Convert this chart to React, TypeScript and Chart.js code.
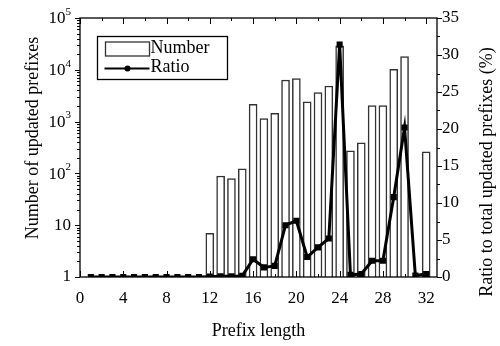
import React, { useEffect, useRef } from 'react';
import { Chart, registerables } from 'chart.js';

Chart.register(...registerables);

// Prefix lengths that have bars, and the number of updated prefixes for each
const barLengths = [12, 13, 14, 15, 16, 17, 18, 19, 20, 21, 22, 23, 24, 25, 26, 27, 28, 29, 30, 32];
const barCounts = [7, 89, 79, 123, 2150, 1150, 1440, 6350, 6750, 2420, 3620, 4870, 29000, 274, 390, 2040, 2040, 10200, 17900, 262];

// Ratio to total updated prefixes (%) for prefix lengths 1..32
const ratioLengths = [1, 2, 3, 4, 5, 6, 7, 8, 9, 10, 11, 12, 13, 14, 15, 16, 17, 18, 19, 20, 21, 22, 23, 24, 25, 26, 27, 28, 29, 30, 31, 32];
const ratioValues = [0, 0, 0, 0, 0, 0, 0, 0, 0, 0, 0, 0.05, 0.1, 0.1, 0.15, 2.4, 1.3, 1.5, 7.0, 7.6, 2.7, 4.0, 5.2, 31.4, 0.3, 0.4, 2.2, 2.2, 10.8, 20.2, 0.2, 0.4];

// Tick labels
const xTickValues = [0, 4, 8, 12, 16, 20, 24, 28, 32];
const leftTickExponents = [0, 1, 2, 3, 4, 5];
const rightTickValues = [0, 5, 10, 15, 20, 25, 30, 35];

const xTitle = 'Prefix length';
const leftTitle = 'Number of updated prefixes';
const rightTitle = 'Ratio to total updated prefixes (%)';
const legendLabels = ['Number', 'Ratio'];

const FONT = '"Liberation Serif", "Times New Roman", serif';

const axesPlugin = {
  id: 'customAxes',
  afterDraw(chart: any) {
    const { ctx, chartArea } = chart;
    const { left, right, top, bottom } = chartArea;
    const xs = chart.scales.x;
    const ys = chart.scales.y;
    const yr = chart.scales.y1;
    ctx.save();
    ctx.strokeStyle = '#000';
    ctx.fillStyle = '#000';
    ctx.lineWidth = 1.3;
    ctx.strokeRect(left, top, right - left, bottom - top);

    // x ticks (bottom & top, inward)
    ctx.lineWidth = 1;
    for (let v = 0; v <= 32; v += 2) {
      const px = Math.round(xs.getPixelForValue(v)) + 0.5;
      const len = v % 4 === 0 ? 6 : 3;
      ctx.beginPath();
      ctx.moveTo(px, bottom);
      ctx.lineTo(px, bottom - len);
      ctx.moveTo(px, top);
      ctx.lineTo(px, top + len);
      ctx.stroke();
    }
    ctx.font = `17px ${FONT}`;
    ctx.textAlign = 'center';
    ctx.textBaseline = 'middle';
    xTickValues.forEach((v) => {
      ctx.fillText(String(v), xs.getPixelForValue(v), bottom + 22);
    });

    // left log ticks (outward)
    for (let e = 0; e <= 5; e++) {
      const py = Math.round(ys.getPixelForValue(Math.pow(10, e))) + 0.5;
      ctx.beginPath();
      ctx.moveTo(left, py);
      ctx.lineTo(left - 5, py);
      ctx.stroke();
      if (e < 5) {
        for (let k = 2; k <= 9; k++) {
          const my = Math.round(ys.getPixelForValue(k * Math.pow(10, e))) + 0.5;
          ctx.beginPath();
          ctx.moveTo(left, my);
          ctx.lineTo(left - 3, my);
          ctx.stroke();
        }
      }
    }
    ctx.textAlign = 'right';
    leftTickExponents.forEach((e) => {
      const py = ys.getPixelForValue(Math.pow(10, e));
      const lx = left - 9;
      if (e === 0) {
        ctx.font = `17px ${FONT}`;
        ctx.fillText('1', lx, py);
      } else if (e === 1) {
        ctx.font = `17px ${FONT}`;
        ctx.fillText('10', lx, py);
      } else {
        ctx.font = `11px ${FONT}`;
        const sup = String(e);
        const sw = ctx.measureText(sup).width;
        ctx.fillText(sup, lx, py - 6);
        ctx.font = `17px ${FONT}`;
        ctx.fillText('10', lx - sw, py + 1);
      }
    });

    // right ticks (outward)
    for (let v = 0; v <= 35; v += 2.5) {
      const py = Math.round(yr.getPixelForValue(v)) + 0.5;
      const len = v % 5 === 0 ? 5 : 3;
      ctx.beginPath();
      ctx.moveTo(right, py);
      ctx.lineTo(right + len, py);
      ctx.stroke();
    }
    ctx.font = `17px ${FONT}`;
    ctx.textAlign = 'left';
    rightTickValues.forEach((v) => {
      ctx.fillText(String(v), right + 5, yr.getPixelForValue(v));
    });

    // titles
    ctx.font = `18px ${FONT}`;
    ctx.textAlign = 'center';
    ctx.fillText(xTitle, (left + right) / 2, bottom + 54);
    ctx.save();
    ctx.translate(33, 138);
    ctx.rotate(-Math.PI / 2);
    ctx.fillText(leftTitle, 0, 0);
    ctx.restore();
    ctx.save();
    ctx.translate(487, 172);
    ctx.rotate(-Math.PI / 2);
    ctx.fillText(rightTitle, 0, 0);
    ctx.restore();

    // legend
    const lx0 = left + 17.5;
    const ly0 = top + 18.5;
    ctx.lineWidth = 1.3;
    ctx.strokeStyle = '#000';
    ctx.strokeRect(lx0, ly0, 130, 43);
    ctx.strokeStyle = '#333';
    ctx.strokeRect(lx0 + 8, ly0 + 5.5, 44, 14);
    ctx.strokeStyle = '#000';
    ctx.lineWidth = 2;
    ctx.beginPath();
    ctx.moveTo(lx0 + 7, ly0 + 32);
    ctx.lineTo(lx0 + 52, ly0 + 32);
    ctx.stroke();
    ctx.beginPath();
    ctx.arc(lx0 + 30, ly0 + 32, 3, 0, Math.PI * 2);
    ctx.fill();
    ctx.font = `18px ${FONT}`;
    ctx.textAlign = 'left';
    ctx.textBaseline = 'middle';
    ctx.fillText(legendLabels[0], lx0 + 53, ly0 + 12);
    ctx.fillText(legendLabels[1], lx0 + 53, ly0 + 31);
    ctx.restore();
  },
};

export default function App() {
  const canvasRef = useRef<HTMLCanvasElement | null>(null);

  useEffect(() => {
    if (!canvasRef.current) return;
    const chart = new Chart(canvasRef.current, {
      type: 'bar',
      data: {
        datasets: [
          {
            type: 'line',
            label: legendLabels[1],
            data: ratioLengths.map((x, i) => ({ x, y: ratioValues[i] })),
            yAxisID: 'y1',
            borderColor: '#000',
            backgroundColor: '#000',
            borderWidth: 3,
            pointRadius: 2.2,
            pointStyle: 'rect',
            tension: 0,
            order: 0,
          } as any,
          {
            type: 'bar',
            label: legendLabels[0],
            data: barLengths.map((x, i) => ({ x, y: barCounts[i] })),
            yAxisID: 'y',
            backgroundColor: '#fff',
            borderColor: '#333',
            borderWidth: 1.5,
            barThickness: 8,
            order: 1,
          } as any,
        ],
      },
      options: {
        responsive: false,
        animation: false,
        layout: { padding: { left: 80, right: 63, top: 18, bottom: 69 } },
        plugins: { legend: { display: false }, tooltip: { enabled: false } },
        scales: {
          x: { type: 'linear', min: 0, max: 33, offset: false, display: false },
          y: { type: 'logarithmic', min: 1, max: 100000, display: false },
          y1: { type: 'linear', min: 0, max: 35, display: false },
        },
      },
      plugins: [axesPlugin],
    });
    return () => chart.destroy();
  }, []);

  return (
    <div style={{ position: 'absolute', left: 0, top: 0, width: 500, height: 346, background: '#fff' }}>
      <canvas ref={canvasRef} width={500} height={346} />
    </div>
  );
}
